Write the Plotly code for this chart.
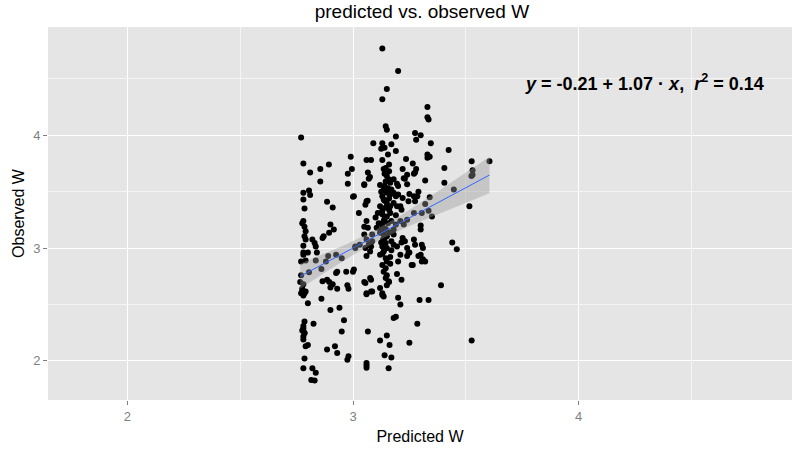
import numpy as np
import plotly.graph_objects as go

predicted_w = [
    3.13, 3.15, 3.13, 3.20, 3.145, 3.15, 3.33, 3.33, 3.335, 3.275, 3.30, 3.28, 3.19,
    2.77, 3.09, 3.13, 3.14, 3.17, 3.125, 3.345, 3.424, 3.19, 3.155, 3.33, 3.34, 3.33,
    2.99, 3.06, 3.08, 3.13, 3.235, 3.16, 3.145, 3.136, 3.265, 3.28, 3.275, 3.22, 3.24,
    3.225, 2.78, 2.893, 2.995, 2.855, 2.977, 2.81, 3.066, 3.075, 3.07, 3.526, 3.605,
    3.405, 3.53, 3.53, 3.525, 3.15, 3.158, 3.145, 3.165, 3.18, 3.195, 3.20, 3.05, 3.32,
    3.24, 3.405, 2.855, 2.977, 3.05, 3.27, 3.23,
    3.447, 3.29, 3.285, 3.25, 3.34, 3.136, 3.15, 3.13, 3.165, 3.18, 3.19, 3.20, 3.136,
    3.15, 3.12, 3.145, 3.165, 3.18, 3.195, 3.22, 3.246, 3.27, 3.275, 3.06, 3.055, 3.004,
    3.0, 2.78, 2.805, 2.81, 2.78, 2.885, 2.91, 3.065, 3.026, 3.32, 3.516, 3.21, 3.215,
    3.335, 3.305, 3.27, 3.10, 3.13, 3.15, 3.165,
    3.06, 3.05, 3.114, 3.136, 3.13, 3.145, 3.12, 3.136, 3.15, 3.133, 3.145, 3.13, 3.15,
    3.17, 3.19, 3.21, 3.225, 3.24, 3.18, 3.30, 3.30, 3.22, 3.23, 3.27, 3.275, 3.305,
    3.31, 3.195, 3.18, 3.06, 3.07, 3.055, 3.076, 3.03, 3.01, 3.35, 3.44, 3.46, 3.215,
    3.066, 3.05, 3.085, 3.085, 3.08, 3.01,
    2.78, 2.785, 2.79, 2.785, 2.79, 2.90, 2.915, 2.894, 2.87, 2.865, 2.82, 2.83, 2.835,
    3.136, 3.12, 3.29, 3.25, 3.24, 3.21, 3.20, 3.265, 3.31, 3.06, 3.004, 3.145, 3.15,
    3.13, 3.145, 3.136, 3.15, 3.145, 3.158, 3.15, 3.195, 3.215, 3.076, 3.055, 3.08,
    3.06, 3.13, 3.136, 3.20, 3.21, 3.295, 3.335, 3.19, 3.18, 3.285, 3.066, 3.15, 3.12,
    3.162, 3.25, 3.17, 3.06, 3.06, 3.158, 3.39, 3.526, 3.26, 3.305, 3.32, 3.30, 3.246,
    3.24, 3.17, 3.165, 3.165, 3.16,
    2.78, 2.80, 2.77, 2.79, 2.84, 2.835, 2.89, 2.925, 2.95, 2.88, 2.805, 2.86, 2.77,
    2.766, 2.78, 2.785, 2.77, 2.79, 2.93, 2.925, 2.97, 3.0, 2.885, 2.895, 2.91, 2.90,
    2.93, 2.865, 2.86, 2.975, 2.98, 3.05, 3.08, 3.06, 3.085, 3.13, 3.12, 2.80, 2.90,
    2.94, 2.785, 2.825, 2.96, 2.95, 2.78, 2.785, 2.78, 2.79, 2.80, 2.885, 2.92, 2.93,
    2.785, 2.98, 2.975, 2.78, 2.82, 2.835, 2.815, 2.83, 3.06, 3.14,
    2.775, 2.78, 2.775, 2.78, 2.775, 2.785, 2.78, 2.78, 2.785, 2.775, 2.78,
    3.14, 3.155, 3.125, 3.16, 3.14, 3.13, 3.16, 3.14, 3.155, 3.125, 3.16, 3.14, 3.125,
    3.17, 3.14, 3.13, 3.16, 3.14, 3.17, 3.19, 3.11, 3.105, 3.12, 3.18,
]

observed_w = [
    4.77, 4.41, 4.32, 4.57, 4.08, 4.05, 4.25, 4.16, 4.14, 4.02, 4.00, 3.96, 3.99,
    3.98, 3.93, 3.93, 3.89, 3.92, 3.88, 3.93, 3.87, 3.86, 3.83, 3.83, 3.81, 3.80,
    3.81, 3.78, 3.78, 3.78, 3.79, 3.74, 3.71, 3.70, 3.75, 3.70, 3.67, 3.70, 3.65,
    3.62, 3.75, 3.74, 3.70, 3.70, 3.66, 3.67, 3.67, 3.63, 3.615, 3.77, 3.77,
    3.71, 3.69, 3.65, 3.64, 3.64, 3.61, 3.59, 3.58, 3.61, 3.57, 3.55, 3.565, 3.60,
    3.565, 3.58, 3.59, 3.57, 3.56, 3.66, 3.615,
    3.52, 3.50, 3.46, 3.48, 3.45, 3.52, 3.49, 3.46, 3.475, 3.49, 3.46, 3.475, 3.43,
    3.40, 3.37, 3.36, 3.37, 3.40, 3.37, 3.445, 3.415, 3.46, 3.415, 3.415, 3.385, 3.46,
    3.455, 3.49, 3.51, 3.47, 3.43, 3.41, 3.36, 3.42, 3.31, 3.39, 3.37, 3.37, 3.34,
    3.33, 3.31, 3.31, 3.27, 3.30, 3.28, 3.31,
    3.24, 3.19, 3.22, 3.24, 3.20, 3.17, 3.135, 3.12, 3.105, 3.075, 3.045, 3.015, 3.00,
    3.24, 3.21, 3.24, 3.21, 3.25, 3.165, 3.20, 3.165, 3.09, 3.06, 3.075, 3.03, 3.03,
    3.00, 3.015, 3.03, 3.075, 3.03, 3.00, 2.97, 3.03, 3.015, 3.28, 3.05, 2.99, 3.05,
    3.18, 3.12, 3.12, 3.06, 3.015, 3.00,
    3.24, 3.19, 3.15, 3.105, 3.075, 3.21, 3.165, 3.135, 3.105, 3.09, 3.075, 3.045, 3.015,
    2.97, 2.94, 2.93, 2.96, 2.93, 2.94, 2.88, 2.85, 2.90, 2.93, 2.81, 2.91, 2.88,
    2.85, 2.82, 2.79, 2.76, 2.735, 2.705, 2.67, 2.77, 2.72, 2.735, 2.69, 2.615,
    2.59, 2.60, 2.57, 2.56, 2.50, 2.54, 2.54, 2.39, 2.38, 2.33, 2.26, 2.225, 2.18,
    2.14, 2.16, 2.03, 1.96, 1.94, 1.935, 2.67, 2.18, 2.85, 2.88, 2.88, 2.94, 2.96,
    3.00, 2.98, 2.92, 2.86, 2.70,
    2.96, 2.96, 2.88, 2.89, 2.96, 2.89, 2.93, 2.94, 2.91, 2.88, 2.785, 2.815, 2.76,
    2.70, 2.68, 2.60, 2.60, 2.615, 2.79, 2.78, 2.79, 2.79, 2.72, 2.70, 2.68, 2.65,
    2.64, 2.705, 2.55, 2.67, 2.64, 2.70, 2.72, 2.60, 2.615, 2.585, 2.645, 2.51, 2.45,
    2.47, 2.35, 2.33, 2.36, 2.26, 2.29, 2.245, 2.215, 2.13, 2.14, 2.10, 2.13, 2.07,
    2.02, 2.04, 2.01, 1.935, 1.935, 1.895, 1.83, 1.825, 1.98, 2.05,
    2.62, 2.58, 2.64, 2.31, 2.27, 2.25, 3.02, 2.94, 3.35, 3.22, 2.19,
    3.55, 3.53, 3.50, 3.44, 3.42, 3.33, 3.34, 3.26, 3.22, 3.16, 3.14, 3.09, 3.05,
    3.06, 2.99, 2.95, 3.68, 3.66, 3.52, 3.29, 3.31, 3.18, 3.56, 3.12,
]

fit_intercept = -0.21
fit_slope = 1.07
fit_label = "<b><i>y</i> = -0.21 + 1.07 · <i>x</i>,  <i>r</i><sup>2</sup> = 0.14</b>"

x = np.array(predicted_w)
y = np.array(observed_w)
n = len(x)
xs = np.linspace(x.min(), x.max(), 80)
yhat = fit_intercept + fit_slope * xs
resid = y - (fit_intercept + fit_slope * x)
s = np.sqrt(np.sum(resid ** 2) / (n - 2))
xm = x.mean()
sxx = np.sum((x - xm) ** 2)
half = 1.97 * s * np.sqrt(1.0 / n + (xs - xm) ** 2 / sxx)

fig = go.Figure()
fig.add_trace(go.Scatter(x=x, y=y, mode="markers",
                         marker=dict(color="black", size=6, line=dict(width=0)),
                         showlegend=False, hoverinfo="skip"))
fig.add_trace(go.Scatter(x=np.concatenate([xs, xs[::-1]]),
                         y=np.concatenate([yhat + half, (yhat - half)[::-1]]),
                         fill="toself", fillcolor="rgba(153,153,153,0.4)",
                         line=dict(width=0), mode="lines", showlegend=False,
                         hoverinfo="skip"))
fig.add_trace(go.Scatter(x=xs, y=yhat, mode="lines",
                         line=dict(color="#3366FF", width=1),
                         showlegend=False, hoverinfo="skip"))

fig.add_annotation(x=4.29, y=4.47, xref="x", yref="y", text=fit_label,
                   showarrow=False, font=dict(size=18, color="black",
                                              family="Liberation Sans"))

axis_common = dict(
    showgrid=True, gridcolor="white", gridwidth=1.3,
    zeroline=False, showline=False,
    ticks="outside", ticklen=4, tickwidth=1, tickcolor="#808080",
    tickfont=dict(size=13, color="#808080", family="Liberation Sans"),
    minor=dict(dtick=0.5, showgrid=True, gridcolor="#F4F4F4", gridwidth=0.7, ticks=""),
    dtick=1,
)

fig.update_layout(
    width=795, height=450,
    margin=dict(l=48, r=3, t=27, b=50),
    paper_bgcolor="white", plot_bgcolor="#E5E5E5",
    font=dict(family="Liberation Sans", color="black"),
    title=dict(text="predicted vs. observed W", x=0.5307, xref="container",
               y=0.975, yref="container", xanchor="center", yanchor="middle",
               font=dict(size=19, color="black")),
    xaxis=dict(range=[1.648, 4.946], tick0=2,
               title=dict(text="Predicted W", font=dict(size=16), standoff=8),
               **axis_common),
    yaxis=dict(range=[1.653, 4.96], tick0=2,
               title=dict(text="Observed W", font=dict(size=16), standoff=4),
               **axis_common),
)

fig.write_html("out.html")
